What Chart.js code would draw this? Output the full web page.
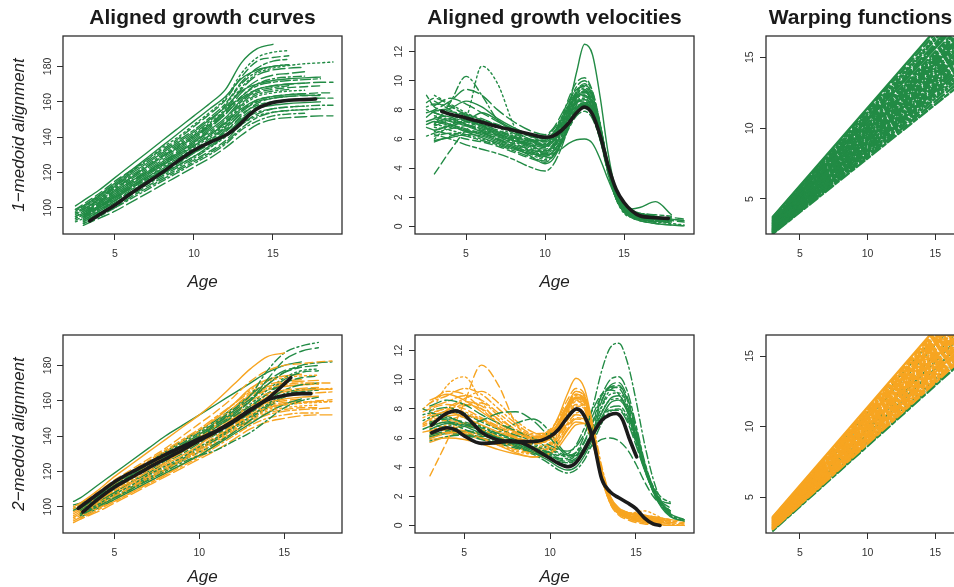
<!DOCTYPE html>
<html>
<head>
<meta charset="UTF-8">
<title>Aligned growth curves</title>
<script src="https://cdn.jsdelivr.net/npm/chart.js@4.4.0/dist/chart.umd.min.js"></script>
<style>
  html, body { margin: 0; padding: 0; background: #fff; }
  body { width: 954px; height: 587px; position: relative; overflow: hidden; }
  .panel { position: absolute; }
  .panel canvas { display: block; }
</style>
</head>
<body>
<div class="panel" style="left:0px;top:0px"><canvas id="p1" width="405" height="293"></canvas></div>
<div class="panel" style="left:352px;top:0px"><canvas id="p2" width="405" height="293"></canvas></div>
<div class="panel" style="left:704px;top:0px"><canvas id="p3" width="313" height="293"></canvas></div>
<div class="panel" style="left:0px;top:299px"><canvas id="p4" width="405" height="293"></canvas></div>
<div class="panel" style="left:352px;top:299px"><canvas id="p5" width="405" height="293"></canvas></div>
<div class="panel" style="left:704px;top:299px"><canvas id="p6" width="313" height="293"></canvas></div>
<script>
const _ = null;

// tick values
const ageTicks = [5, 10, 15];
const heightTicks = [100, 120, 140, 160, 180];
const velTicks = [0, 2, 4, 6, 8, 10, 12];
const warpTicks = [5, 10, 15];

// ---------- top left: aligned growth curves, 1 medoid ----------
const growthAges1 = [2.5, 3, 4, 5, 6, 7, 8, 9, 10, 11, 12, 13, 14, 15, 16, 17, 18, 18.8];
const growth1 = [
  [101, 104, 110, 117, 124, 131, 138, 145, 152, 159, 167, 182, 190, 192.5, _, _, _, _],
  [99, 102, 108, 115, 121, 127, 133, 139, 146, 153, 161, 174, 183, 185, 186, _, _, _],
  [_, 98, 104, 111, 117, 123, 129, 135, 141, 148, 156, 168, 176, 179, 180.5, 181.5, 182, 182.5],
  [97, 100, 106, 112, 118, 124, 130, 136, 142, 149, 158, 170, 177, 180, 181, _, _, _],
  [_, 97, 103, 109, 115, 121, 127, 133, 139, 146, 154, 165, 172, 175, 176, 177, _, _],
  [96, 99, 104, 110, 116, 122, 128, 134, 140, 147, 155, 163, 169, 171, 172, 172.5, 173, _],
  [_, 96, 101, 107, 113, 119, 125, 131, 137, 144, 151, 161, 167, 169, 170, 170.5, _, _],
  [95, 97, 102, 108, 114, 120, 125, 130, 136, 142, 149, 159, 165, 167, 168, 168.5, 169, _],
  [_, 95, 100, 106, 112, 117, 123, 128, 134, 140, 147, 157, 163, 165, 166, 166.5, _, _],
  [94, 96, 101, 107, 113, 119, 124, 130, 135, 141, 148, 158, 164, 166, 167, _, _, _],
  [_, 94, 99, 104, 110, 115, 121, 126, 131, 137, 144, 154, 160, 162, 163, 163.5, 164, _],
  [93, 95, 100, 105, 111, 116, 121, 127, 132, 138, 145, 153, 158, 160, 161, 161.5, 162, 162],
  [_, 93, 98, 103, 108, 114, 119, 124, 129, 135, 141, 150, 156, 158, 159, 159.5, 160, _],
  [_, 92, 97, 102, 107, 112, 117, 122, 127, 132, 138, 147, 153, 156, 157, 157.5, _, _],
  [92, 94, 99, 104, 109, 114, 119, 124, 129, 134, 140, 147, 152, 154, 155, 155.5, 156, _],
  [_, 91, 96, 100, 105, 110, 115, 120, 125, 130, 136, 144, 149, 152, 153, 153.5, _, _],
  [_, 90, 94, 98, 103, 108, 113, 118, 123, 128, 134, 141, 147, 150, 151, 151.5, 152, 152],
  [98, 101, 107, 113, 120, 126, 132, 138, 144, 151, 159, 171, 179, 183, 184, _, _, _],
  [_, 99, 105, 112, 119, 125, 131, 137, 143, 150, 157, 166, 170, 172, 173, 173.5, 174, _],
  [_, 94, 100, 106, 111, 117, 122, 128, 133, 139, 146, 155, 161, 163, 164, 164.5, 165, 165],
  [_, 100, 106, 113, 120, 127, 134, 140, 147, 154, 162, 176, 185, 188, 189, _, _, _],
  [97, 99, 105, 111, 117, 123, 129, 134, 140, 146, 153, 163, 170, 173, 174, 174.5, _, _],
  [_, 96, 102, 108, 114, 120, 126, 132, 138, 145, 153, 162, 167, 169, 170, 170.5, 171, 171],
  [95, 98, 103, 109, 115, 120, 126, 131, 137, 143, 150, 160, 166, 168, 169, _, _, _],
  [_, 95, 101, 106, 112, 118, 124, 129, 135, 141, 148, 156, 161, 163, 164, 164.5, _, _],
  [_, 93, 98, 104, 109, 115, 120, 125, 131, 137, 143, 151, 157, 160, 161, 161.5, 162, _],
  [94, 96, 101, 106, 112, 117, 122, 127, 132, 138, 146, 155, 160, 162, 163, _, _, _],
  [_, 92, 97, 102, 108, 113, 118, 123, 128, 134, 141, 149, 154, 156, 157, 157.5, 158, 158],
  [_, 97, 103, 110, 117, 123, 129, 135, 141, 147, 155, 167, 175, 178, 179, 179.5, _, _],
  [_, 91, 95, 100, 106, 111, 116, 121, 126, 131, 137, 145, 151, 154, 155, 155.5, 156, _],
  [99, 101, 107, 114, 121, 128, 135, 142, 149, 156, 163, 173, 178, 180, 181, _, _, _],
  [_, 95, 100, 105, 111, 116, 121, 126, 131, 136, 143, 152, 159, 162, 163, 163.5, 163.5, _]
];
const meanGrowthAges1 = [3.4, 4, 5, 6, 7, 8, 9, 10, 11, 12, 12.5, 13, 13.5, 14, 15, 16, 17, 17.7];
const meanGrowth1 = [92.5, 96, 101.5, 108, 114, 120, 126.5, 132.5, 137, 141, 144, 148, 152.5, 156, 159.5, 160.8, 161.2, 161.5];

// ---------- top middle: aligned growth velocities, 1 medoid ----------
const velAges1 = [2.5, 3, 4, 5, 6, 7, 8, 9, 10, 10.5, 11, 11.5, 12, 12.5, 13, 13.5, 14, 14.5, 15, 15.5, 16, 17, 18, 18.8];
const vel1 = [
  [_, 7.5, 7.2, 6.9, 6.5, 6.2, 5.9, 5.6, 5.5, 5.8, 6.6, 8.2, 10.6, 12.5, 11.8, 8.8, 5.0, 2.4, 1.1, 0.6, 0.4, 0.2, 0.1, 0.05],
  [8.5, 8.8, 8.3, 7.6, 7.0, 6.6, 6.2, 5.8, 5.6, 6.2, 7.3, 8.8, 9.9, 10.2, 9.3, 7.0, 4.0, 2.0, 1.0, 0.7, 0.6, 0.5, _, _],
  [_, 6.0, 7.0, 7.5, 11.0, 9.8, 7.0, 5.2, 5.0, 5.6, 6.5, 7.8, 8.8, 9.0, 8.2, 6.2, 3.6, 1.9, 1.1, 0.8, 0.6, 0.4, _, _],
  [_, 7.0, 8.5, 10.3, 9.0, 7.3, 6.6, 6.2, 6.0, 6.4, 7.3, 8.4, 9.2, 9.4, 8.7, 6.8, 4.2, 2.2, 1.3, 0.9, 0.7, 0.5, 0.4, _],
  [7.8, 8.0, 8.6, 9.4, 9.0, 8.0, 7.2, 6.6, 6.3, 6.7, 7.6, 8.6, 9.4, 9.6, 8.8, 6.9, 4.3, 2.3, 1.3, 0.9, 0.8, 0.6, _, _],
  [_, 6.3, 6.0, 5.6, 5.3, 5.0, 4.6, 4.1, 3.8, 4.2, 5.3, 6.8, 8.0, 8.3, 7.7, 6.0, 3.8, 2.2, 1.4, 1.0, 0.8, 0.6, 0.4, _],
  [_, 7.2, 6.9, 6.5, 6.1, 5.7, 5.3, 5.0, 4.9, 5.0, 5.3, 5.7, 5.95, 6.0, 5.7, 4.6, 3.2, 2.0, 1.4, 1.1, 0.9, 0.7, 0.5, 0.4],
  [7.2, 7.4, 7.6, 7.3, 6.9, 6.4, 6.0, 5.6, 5.3, 5.6, 6.4, 7.6, 8.6, 8.9, 8.4, 6.6, 3.9, 1.9, 1.0, 0.6, 0.4, 0.2, 0.1, 0.05],
  [_, 6.8, 6.6, 6.3, 6.0, 5.7, 5.4, 5.0, 4.6, 4.9, 5.8, 7.2, 8.4, 8.7, 8.1, 6.3, 3.8, 2.0, 1.1, 0.8, 0.6, 0.4, 0.3, _],
  [8.2, 8.4, 8.2, 7.7, 7.3, 6.9, 6.6, 6.3, 6.2, 6.6, 7.4, 8.3, 8.9, 9.0, 8.3, 6.4, 3.9, 2.0, 1.2, 0.9, 0.8, 0.7, _, _],
  [_, 5.8, 6.2, 6.5, 6.4, 6.0, 5.6, 5.2, 4.9, 5.1, 6.0, 7.4, 8.8, 9.3, 8.6, 6.5, 3.8, 1.9, 1.0, 0.6, 0.5, 0.3, _, _],
  [_, 8.0, 7.7, 7.2, 6.8, 6.4, 6.0, 5.7, 5.6, 6.0, 7.0, 8.4, 9.6, 10.0, 9.2, 7.0, 4.1, 2.0, 1.0, 0.7, 0.5, 0.4, 0.3, _],
  [_, 7.4, 7.0, 6.6, 6.3, 5.9, 5.5, 5.1, 4.8, 5.1, 5.8, 6.8, 7.8, 8.1, 7.6, 6.0, 3.9, 2.3, 1.5, 1.2, 1.3, 1.7, 0.8, _],
  [6.8, 6.6, 6.3, 6.0, 5.8, 5.5, 5.1, 4.7, 4.4, 4.8, 5.7, 7.0, 8.0, 8.3, 7.8, 6.2, 4.0, 2.3, 1.4, 1.0, 0.8, 0.6, 0.6, 0.5],
  [_, 9.0, 8.4, 7.8, 7.3, 6.8, 6.3, 5.9, 5.7, 6.0, 6.8, 8.0, 9.2, 9.7, 9.0, 6.9, 4.1, 2.1, 1.1, 0.7, 0.5, 0.3, _, _],
  [_, 6.5, 7.0, 7.2, 7.0, 6.6, 6.2, 5.9, 5.9, 6.3, 7.0, 7.9, 8.5, 8.6, 8.0, 6.3, 3.9, 2.1, 1.2, 0.8, 0.6, 0.4, 0.4, _],
  [_, 7.8, 7.4, 7.0, 6.6, 6.3, 6.1, 5.9, 5.8, 6.2, 6.9, 7.7, 8.2, 8.3, 7.7, 5.9, 3.6, 1.9, 1.1, 0.8, 0.7, 0.6, 0.5, _],
  [9.0, 8.2, 7.9, 7.6, 7.0, 6.2, 5.7, 5.3, 5.1, 5.5, 6.3, 7.5, 8.7, 9.2, 8.6, 6.7, 4.0, 2.0, 1.0, 0.7, 0.5, 0.35, 0.25, _],
  [_, 5.9, 6.1, 6.3, 6.2, 5.8, 5.4, 4.9, 4.3, 4.6, 5.6, 7.0, 8.1, 8.4, 7.9, 6.2, 3.9, 2.1, 1.1, 0.8, 0.6, 0.5, _, _],
  [_, 3.6, 5.2, 6.6, 7.2, 7.0, 6.5, 6.0, 5.9, 6.3, 7.1, 8.2, 9.1, 9.3, 8.5, 6.5, 3.9, 2.0, 1.1, 0.8, 0.6, 0.5, 0.5, _],
  [_, 7.6, 7.3, 7.0, 6.7, 6.3, 5.9, 5.5, 5.2, 5.5, 6.3, 7.6, 9.0, 9.5, 8.9, 6.8, 4.0, 2.0, 1.1, 0.8, 0.6, 0.5, 0.4, _],
  [8.0, 7.8, 7.5, 7.2, 6.9, 6.5, 6.1, 5.7, 5.4, 5.8, 6.7, 8.0, 9.3, 9.8, 9.0, 6.9, 4.0, 2.0, 1.0, 0.7, 0.5, 0.3, _, _],
  [_, 6.9, 7.3, 7.6, 7.4, 6.9, 6.4, 5.9, 5.5, 5.8, 6.5, 7.5, 8.3, 8.5, 7.9, 6.1, 3.7, 1.9, 1.1, 0.9, 0.7, 0.5, 0.4, 0.3],
  [_, 6.2, 6.4, 6.2, 5.9, 5.6, 5.2, 4.8, 4.5, 4.8, 5.6, 6.7, 7.6, 7.9, 7.4, 5.9, 3.8, 2.2, 1.4, 1.1, 0.9, 0.7, _, _],
  [7.5, 7.9, 8.1, 8.6, 8.2, 7.4, 6.8, 6.3, 6.0, 6.4, 7.2, 8.2, 9.0, 9.2, 8.5, 6.5, 3.9, 2.0, 1.1, 0.8, 0.6, 0.5, 0.4, _],
  [_, 8.6, 8.0, 7.4, 6.9, 6.5, 6.1, 5.6, 5.2, 5.4, 6.1, 7.2, 8.2, 8.5, 8.0, 6.3, 3.9, 2.1, 1.2, 0.9, 0.8, 0.6, _, _],
  [_, 7.0, 6.8, 6.6, 6.4, 6.1, 5.8, 5.4, 5.0, 5.3, 6.2, 7.7, 9.2, 9.7, 9.0, 6.8, 3.9, 1.9, 0.9, 0.6, 0.4, 0.3, 0.2, 0.1],
  [6.2, 6.4, 6.7, 6.9, 6.7, 6.3, 5.9, 5.5, 5.1, 5.4, 6.2, 7.4, 8.5, 8.8, 8.2, 6.4, 3.9, 2.0, 1.1, 0.8, 0.6, 0.5, _, _],
  [_, 8.3, 8.8, 8.4, 7.8, 7.2, 6.7, 6.2, 5.8, 6.1, 6.9, 8.0, 8.9, 9.1, 8.4, 6.5, 3.9, 2.0, 1.1, 0.8, 0.7, 0.6, 0.5, _],
  [_, 7.1, 7.4, 7.0, 6.5, 6.0, 5.5, 5.1, 4.7, 4.9, 5.7, 7.0, 8.1, 8.4, 7.8, 6.1, 3.8, 2.1, 1.3, 1.0, 0.9, 0.8, 0.7, _],
  [_, 6.6, 6.9, 7.2, 7.8, 7.3, 6.6, 6.0, 5.6, 5.9, 6.6, 7.6, 8.5, 8.7, 8.1, 6.3, 3.8, 2.0, 1.2, 0.9, 0.7, 0.5, _, _],
  [7.0, 7.2, 7.0, 6.7, 6.4, 6.0, 5.7, 5.3, 5.0, 5.2, 5.9, 7.0, 8.1, 8.5, 8.0, 6.3, 3.9, 2.1, 1.2, 0.9, 0.7, 0.6, 0.5, 0.4]
];
const meanVelAges1 = [3.46, 4, 5, 6, 7, 8, 9, 10, 10.5, 11, 11.5, 12, 12.5, 13, 13.5, 14, 14.5, 15, 15.5, 16, 17, 17.8];
const meanVel1 = [7.9, 7.7, 7.45, 7.15, 6.85, 6.6, 6.35, 6.12, 6.2, 6.55, 7.1, 7.8, 8.2, 7.7, 6.2, 4.15, 2.55, 1.64, 1.07, 0.73, 0.6, 0.55];

// ---------- warping functions (line ends at the first and last age) ----------
const warpAges = [3, 18];
const warpStart1 = [3.75, 3.71, 3.64, 3.58, 3.52, 3.47, 3.43, 3.37, 3.33, 3.28, 3.25, 3.2, 3.16, 3.12, 3.09,
  3.04, 3.0, 2.97, 2.93, 2.9, 2.86, 2.83, 2.8, 2.76, 2.73, 2.7, 2.67, 2.63, 2.59, 2.55];
const warpEnd1 = [20.2, 19.9, 19.6, 19.4, 19.1, 18.9, 18.7, 18.4, 18.2, 18.0, 17.8, 17.6, 17.4, 17.2, 17.0,
  16.8, 16.6, 16.4, 16.2, 16.0, 15.8, 15.6, 15.45, 15.25, 15.05, 14.85, 14.65, 14.45, 14.2, 13.95];

// ---------- bottom left: growth curves, 2 medoids ----------
const growthAges2 = [2.6, 3, 4, 5, 6, 7, 8, 9, 10, 11, 12, 13, 14, 15, 16, 17, 17.8];
const growth2Green = [
  [_, 100, 106, 112, 118, 124, 130, 136, 142, 148, 155, 163, 177, 187, 191, 193, _],
  [_, 99, 105, 111, 117, 122, 128, 134, 140, 146, 152, 160, 172, 183, 188, 190, _],
  [98, 100, 106, 112, 118, 124, 129, 135, 141, 147, 153, 160, 169, 176, 180, 181.5, 182],
  [103, 105, 112, 119, 126, 133, 140, 146, 152, 158, 164, 170, 176, 180, 182, _, _],
  [_, 98, 104, 110, 116, 122, 128, 133, 139, 145, 151, 157, 164, 170, 173, 174, _],
  [_, 96, 101, 107, 112, 118, 123, 128, 134, 139, 145, 151, 158, 164, 167, _, _],
  [_, 95, 100, 105, 110, 115, 120, 125, 129, 132, 137, 142, 149, 156, 160, 162, _],
  [101, 102, 107, 113, 119, 125, 131, 137, 143, 149, 156, 163, 171, 177, 179, 180, _],
  [_, 97, 103, 108, 114, 119, 125, 130, 136, 141, 147, 153, 160, 166, 169, 170, _],
  [_, 94, 99, 104, 109, 114, 119, 124, 129, 135, 141, 147, 153, 158, 161, _, _],
  [_, 97, 102, 108, 114, 120, 126, 131, 137, 143, 149, 156, 164, 172, 176, 177, _],
  [99, 101, 106, 112, 117, 123, 128, 134, 139, 145, 151, 158, 166, 173, 177, 178, _],
  [_, 95, 101, 106, 111, 117, 122, 127, 133, 138, 144, 150, 157, 163, 166, 167, _],
  [_, 100, 105, 111, 117, 123, 129, 135, 141, 147, 154, 161, 169, 176, 179, _, _],
  [_, 96, 100, 105, 110, 116, 121, 126, 131, 136, 142, 149, 156, 162, 165, 166, _]
];
const growth2Orange = [
  [_, 102, 109, 117, 124, 131, 138, 145, 152, 160, 169, 178, 185, 187, _, _, _],
  [100, 102, 108, 115, 121, 127, 133, 140, 147, 154, 162, 171, 177, 180, 181, 182, 182.5],
  [99, 101, 107, 113, 119, 125, 131, 137, 143, 150, 158, 166, 171, 173, 174, 174.5, _],
  [_, 100, 106, 112, 118, 123, 129, 135, 141, 148, 156, 163, 167, 169, 170, 170, 170],
  [97, 99, 104, 110, 116, 121, 127, 133, 139, 146, 153, 160, 164, 166, 167, 167.5, _],
  [_, 98, 103, 109, 114, 120, 125, 131, 137, 144, 151, 157, 161, 163, 164, 164.5, 165],
  [95, 97, 102, 107, 113, 118, 124, 129, 135, 142, 149, 155, 159, 161, 162, 162.5, _],
  [_, 96, 101, 106, 111, 117, 122, 127, 133, 139, 146, 152, 156, 158, 159, 160, 160.5],
  [93, 95, 100, 105, 110, 115, 120, 126, 131, 137, 144, 150, 154, 156, 157, 157.5, _],
  [_, 94, 99, 103, 108, 113, 118, 123, 128, 134, 140, 146, 150, 152, 153, 153, _],
  [91, 93, 97, 102, 107, 112, 117, 122, 127, 132, 138, 144, 148, 150, 151.5, 152, 152],
  [_, 101, 107, 114, 120, 126, 132, 138, 144, 151, 158, 165, 169, 171, 172, _, _],
  [96, 98, 103, 108, 114, 119, 125, 131, 137, 143, 150, 157, 162, 165, 166, 166.5, 166.5],
  [_, 97, 102, 107, 112, 118, 123, 128, 134, 140, 147, 154, 158, 160, 161, _, _],
  [94, 96, 101, 106, 111, 116, 121, 126, 132, 138, 145, 151, 155, 157.5, 158.5, 159, 159.5],
  [_, 99, 105, 111, 117, 122, 128, 134, 140, 147, 154, 161, 166, 168, 169, 169.5, _],
  [_, 98, 104, 110, 116, 122, 127, 133, 139, 146, 154, 162, 166, 168, 169, 169.5, _],
  [94, 96, 100, 105, 110, 116, 121, 127, 132, 138, 145, 152, 156, 158, 159, 159.5, 159.5],
  [_, 100, 106, 113, 119, 125, 131, 137, 143, 150, 158, 167, 172, 174, 175, _, _],
  [92, 94, 99, 104, 109, 114, 119, 124, 130, 136, 143, 149, 153, 155, 156, 156, _],
  [_, 97, 103, 109, 115, 121, 127, 132, 138, 145, 152, 159, 163, 165, 166, 166.5, 167],
  [_, 95, 100, 105, 111, 116, 121, 127, 133, 139, 146, 153, 157, 159, 160, _, _],
  [98, 100, 105, 111, 117, 123, 129, 135, 141, 148, 156, 164, 168, 170, 171, 171.5, _],
  [_, 93, 98, 103, 108, 113, 118, 124, 129, 135, 142, 148, 152, 154, 155, 155.5, 156]
];
const meanGrowthAges2Orange = [2.87, 4, 5, 6, 7, 8, 9, 10, 11, 12, 13, 14, 15, 16, 16.56];
const meanGrowth2Orange = [99, 107, 114, 119.5, 124.5, 129.5, 134, 138.5, 143, 148.5, 155, 160.5, 163, 164, 164];
const meanGrowthAges2Green = [3.15, 4, 5, 6, 7, 8, 9, 10, 11, 12, 13, 14, 15, 15.38];
const meanGrowth2Green = [97, 104, 111, 116.5, 122, 127, 132, 137.5, 142.5, 148, 154.5, 161, 169.5, 173];

// ---------- bottom middle: growth velocities, 2 medoids ----------
const velAges2 = [2.6, 3, 4, 5, 6, 7, 8, 9, 10, 10.5, 11, 11.5, 12, 12.5, 13, 13.5, 14, 14.5, 15, 15.5, 16, 16.5, 17, 17.8];
const vel2Green = [
  [_, 7.0, 7.4, 7.0, 6.5, 6.0, 5.6, 5.2, 4.8, 4.6, 4.6, 5.0, 6.2, 8.2, 10.6, 12.2, 12.5, 11.2, 8.6, 5.6, 3.2, 1.6, 0.8, _],
  [_, 6.2, 6.5, 6.8, 7.2, 7.7, 7.8, 7.2, 6.0, 5.3, 4.8, 4.8, 5.4, 6.8, 8.5, 9.6, 9.8, 8.8, 6.7, 4.3, 2.6, 1.7, 1.5, _],
  [8.0, 7.8, 7.2, 6.6, 6.2, 5.9, 5.6, 5.3, 5.0, 4.8, 4.9, 5.5, 6.7, 8.0, 9.0, 9.3, 9.0, 7.8, 5.8, 3.8, 2.4, 1.5, 1.0, _],
  [_, 6.6, 7.0, 6.8, 6.3, 5.9, 5.5, 5.0, 4.4, 4.0, 3.8, 4.0, 4.8, 6.0, 7.4, 8.4, 8.6, 7.8, 6.0, 4.1, 2.6, 1.5, 0.8, 0.4],
  [_, 6.0, 6.3, 6.2, 5.9, 5.6, 5.3, 5.0, 4.6, 4.4, 4.3, 4.5, 5.0, 5.5, 5.9, 6.0, 5.8, 5.2, 4.2, 3.0, 2.0, 1.4, 1.0, _],
  [7.2, 7.4, 7.8, 7.4, 6.8, 6.3, 5.9, 5.5, 5.0, 4.6, 4.3, 4.4, 5.2, 6.6, 8.1, 9.0, 9.1, 8.2, 6.3, 4.2, 2.5, 1.4, 0.7, 0.3],
  [_, 5.8, 6.1, 6.2, 6.0, 5.7, 5.4, 4.9, 4.2, 3.8, 3.6, 3.8, 4.5, 5.7, 7.0, 7.8, 8.0, 7.3, 5.7, 3.9, 2.4, 1.4, 0.8, _],
  [_, 8.2, 8.6, 8.3, 7.6, 7.0, 6.5, 6.0, 5.5, 5.2, 5.1, 5.4, 6.3, 7.6, 8.9, 9.5, 9.4, 8.3, 6.2, 4.0, 2.3, 1.3, 0.7, _],
  [_, 6.9, 6.7, 6.4, 6.1, 6.4, 7.0, 7.3, 6.4, 5.5, 4.9, 4.8, 5.3, 6.3, 7.4, 8.1, 8.2, 7.5, 5.9, 4.1, 2.7, 1.9, 1.6, _],
  [6.6, 6.8, 7.1, 6.9, 6.5, 6.0, 5.6, 5.1, 4.6, 4.3, 4.1, 4.3, 5.0, 6.3, 7.7, 8.7, 8.9, 8.0, 6.1, 4.0, 2.3, 1.2, 0.6, 0.3],
  [_, 7.1, 7.3, 7.1, 6.7, 6.3, 5.9, 5.4, 4.9, 4.6, 4.5, 4.8, 5.7, 7.1, 8.6, 9.5, 9.6, 8.6, 6.5, 4.2, 2.5, 1.4, 0.8, _],
  [_, 6.4, 6.8, 7.0, 6.8, 6.4, 6.0, 5.6, 5.2, 4.9, 4.7, 4.8, 5.4, 6.5, 7.8, 8.6, 8.7, 7.9, 6.1, 4.1, 2.5, 1.5, 1.0, _],
  [7.6, 7.7, 7.5, 7.0, 6.6, 6.2, 5.8, 5.3, 4.7, 4.3, 4.1, 4.3, 5.1, 6.5, 8.2, 9.3, 9.5, 8.6, 6.5, 4.2, 2.4, 1.3, 0.7, 0.4],
  [_, 6.1, 6.4, 6.5, 6.3, 6.0, 5.7, 5.3, 4.8, 4.5, 4.4, 4.6, 5.3, 6.3, 7.3, 7.9, 7.9, 7.1, 5.5, 3.8, 2.4, 1.6, 1.2, _],
  [_, 7.9, 8.1, 7.7, 7.1, 6.6, 6.2, 5.8, 5.3, 5.0, 4.8, 5.0, 5.8, 7.2, 8.9, 10.0, 10.2, 9.2, 6.9, 4.4, 2.6, 1.5, 0.9, _]
];
const vel2Orange = [
  [_, 7.5, 7.8, 7.4, 6.9, 6.4, 6.0, 5.8, 6.4, 7.5, 9.0, 10.1, 9.4, 6.8, 3.6, 1.6, 0.8, 0.5, 0.3, 0.2, 0.1, 0.05, 0, 0],
  [_, 3.4, 5.8, 8.4, 11.0, 9.6, 7.0, 6.0, 6.6, 7.3, 8.2, 8.6, 8.0, 5.8, 3.2, 1.6, 1.0, 0.7, 0.5, 0.4, 0.3, _, _, _],
  [_, 7.6, 9.6, 10.2, 8.5, 6.9, 6.0, 5.6, 5.9, 6.6, 7.7, 8.5, 8.2, 6.2, 3.4, 1.6, 0.9, 0.6, 0.4, 0.3, 0.2, 0.1, _, _],
  [8.0, 8.4, 8.9, 9.4, 9.0, 8.0, 7.0, 6.3, 6.4, 7.0, 8.1, 8.9, 8.6, 6.6, 3.7, 1.8, 1.0, 0.7, 0.6, 0.5, 0.4, 0.3, 0.2, _],
  [_, 6.0, 6.3, 6.4, 6.0, 5.6, 5.2, 5.0, 5.4, 6.1, 7.0, 7.6, 7.3, 5.6, 3.2, 1.6, 0.9, 0.6, 0.5, 0.4, 0.3, 0.2, 0.1, _],
  [6.8, 7.0, 7.5, 7.6, 7.2, 6.6, 6.0, 5.6, 6.0, 6.9, 8.2, 9.2, 8.8, 6.5, 3.4, 1.5, 0.8, 0.6, 0.5, 0.5, 0.5, 0.4, 0.3, 0.2],
  [_, 5.9, 6.0, 5.9, 5.6, 5.2, 4.9, 4.7, 5.0, 5.6, 6.5, 7.1, 7.0, 5.5, 3.3, 1.8, 1.1, 0.8, 0.7, 0.6, 0.5, 0.4, _, _],
  [7.8, 8.0, 8.3, 8.0, 7.4, 6.8, 6.3, 6.0, 6.5, 7.4, 8.6, 9.4, 9.0, 6.7, 3.5, 1.5, 0.7, 0.4, 0.2, 0.1, 0.05, 0, 0, 0],
  [_, 6.5, 6.9, 7.0, 6.6, 6.1, 5.7, 5.4, 5.7, 6.4, 7.4, 8.0, 7.7, 5.9, 3.4, 1.7, 1.0, 0.8, 0.9, 1.0, 0.8, 0.5, 0.3, _],
  [_, 7.2, 7.6, 8.2, 8.4, 7.5, 6.5, 5.9, 6.0, 6.7, 7.8, 8.7, 8.5, 6.4, 3.5, 1.7, 0.9, 0.6, 0.4, 0.3, 0.2, 0.2, _, _],
  [6.4, 6.5, 6.6, 6.5, 6.2, 5.8, 5.4, 5.2, 5.5, 6.2, 7.2, 7.9, 7.6, 5.9, 3.5, 1.8, 1.1, 0.9, 0.8, 0.7, 0.6, 0.5, 0.4, 0.3],
  [_, 8.4, 9.2, 9.0, 8.0, 7.0, 6.4, 6.1, 6.2, 6.9, 8.0, 8.8, 8.5, 6.5, 3.7, 1.8, 1.0, 0.7, 0.5, 0.4, 0.3, _, _, _],
  [_, 6.2, 6.4, 6.3, 6.0, 5.5, 5.0, 4.7, 4.9, 5.4, 6.2, 6.9, 7.0, 5.9, 3.8, 2.0, 1.2, 0.9, 0.8, 0.7, 0.6, 0.5, 0.4, _],
  [7.0, 7.3, 7.9, 8.5, 8.2, 7.2, 6.4, 6.0, 6.3, 7.1, 8.3, 9.0, 8.6, 6.4, 3.4, 1.6, 0.9, 0.7, 0.6, 0.5, 0.4, 0.3, 0.2, 0.1],
  [_, 6.7, 6.5, 6.2, 5.9, 5.5, 5.1, 4.9, 5.2, 5.9, 6.9, 7.7, 7.8, 6.3, 3.9, 2.0, 1.0, 0.6, 0.4, 0.3, 0.2, 0.1, _, _],
  [_, 7.7, 8.1, 8.7, 9.2, 8.4, 7.2, 6.4, 6.2, 6.8, 7.9, 8.8, 8.7, 6.9, 4.1, 2.0, 1.0, 0.6, 0.4, 0.3, 0.2, _, _, _],
  [_, 7.3, 7.9, 8.3, 8.0, 7.3, 6.6, 6.1, 6.2, 6.9, 8.0, 8.7, 8.4, 6.4, 3.6, 1.8, 1.0, 0.7, 0.5, 0.4, 0.3, 0.2, _, _],
  [6.9, 7.1, 7.2, 7.0, 6.6, 6.1, 5.6, 5.3, 5.6, 6.3, 7.4, 8.2, 8.0, 6.1, 3.5, 1.7, 1.0, 0.7, 0.6, 0.5, 0.4, 0.3, 0.2, 0.1],
  [_, 8.6, 9.0, 8.6, 7.8, 7.0, 6.4, 6.0, 6.3, 7.1, 8.3, 9.2, 8.9, 6.7, 3.6, 1.6, 0.8, 0.5, 0.3, 0.2, 0.1, 0.05, _, _],
  [_, 6.3, 6.6, 6.8, 6.5, 6.0, 5.5, 5.1, 5.3, 5.9, 6.8, 7.4, 7.3, 5.8, 3.5, 1.9, 1.2, 0.9, 0.7, 0.6, 0.5, 0.4, 0.3, _],
  [7.4, 7.6, 8.0, 7.8, 7.3, 6.7, 6.2, 5.9, 6.1, 6.8, 7.9, 8.6, 8.3, 6.3, 3.5, 1.7, 0.9, 0.6, 0.5, 0.4, 0.3, 0.2, 0.1, 0],
  [_, 6.8, 7.2, 7.5, 7.3, 6.7, 6.1, 5.7, 5.9, 6.6, 7.6, 8.3, 8.1, 6.2, 3.6, 1.8, 1.0, 0.7, 0.6, 0.6, 0.5, 0.4, _, _],
  [_, 5.7, 6.1, 6.4, 6.3, 5.9, 5.4, 5.0, 5.1, 5.7, 6.6, 7.3, 7.2, 5.7, 3.4, 1.7, 1.0, 0.8, 0.7, 0.6, 0.5, 0.4, 0.3, _],
  [_, 8.1, 8.5, 8.9, 8.6, 7.7, 6.8, 6.2, 6.3, 7.0, 8.2, 9.0, 8.7, 6.6, 3.7, 1.8, 0.9, 0.6, 0.4, 0.3, 0.2, 0.1, _, _]
];
const meanVelAges2Orange = [3.1, 3.5, 4, 4.46, 5, 5.5, 6, 7, 8, 9, 10, 10.5, 11, 11.55, 12, 12.5, 13, 13.5, 14, 14.5, 15, 15.5, 16, 16.4];
const meanVel2Orange = [6.88, 7.3, 7.7, 7.86, 7.6, 7.0, 6.4, 5.85, 5.75, 5.75, 6.1, 6.6, 7.4, 8.0, 7.5, 5.9, 3.2, 2.3, 1.9, 1.55, 1.15, 0.5, 0.1, 0];
const meanVelAges2Green = [3.1, 3.5, 4, 4.5, 5, 6, 7, 7.66, 8.5, 9, 10, 10.5, 11.06, 11.5, 12, 12.5, 13, 13.5, 13.84, 14.2, 14.6, 15.04];
const meanVel2Green = [6.35, 6.55, 6.7, 6.55, 6.15, 5.63, 5.7, 5.8, 5.6, 5.3, 4.6, 4.25, 4.03, 4.3, 5.2, 6.3, 7.2, 7.6, 7.68, 7.3, 6.0, 4.7];

// ---------- bottom right: warping functions, 2 medoids ----------
const warpStart2Orange = [3.6, 3.56, 3.52, 3.48, 3.44, 3.4, 3.36, 3.32, 3.28, 3.24, 3.2, 3.16, 3.12, 3.08, 3.04,
  3.0, 2.96, 2.92, 2.88, 2.85, 2.82, 2.79, 2.76, 2.72];
const warpEnd2Orange = [20.25, 20.0, 19.8, 19.6, 19.4, 19.2, 19.0, 18.8, 18.6, 18.4, 18.2, 18.0, 17.8, 17.6, 17.4,
  17.2, 17.0, 16.8, 16.6, 16.4, 16.2, 16.0, 15.85, 15.7];
const warpStart2Green = [3.5, 3.35, 3.2, 3.05, 2.95, 2.85, 2.78, 2.7, 2.65, 2.6];
const warpEnd2Green = [19.6, 18.9, 18.1, 17.5, 16.9, 16.4, 16.0, 15.8, 15.6, 15.47];

// ---------- styling ----------
const GREEN = '#228b45';
const ORANGE = '#f7a521';
const BLACK = '#1b1b1b';
const AXIS = '#2e2e2e';
const TICK_TEXT = '#333';
const LTY = [[], [8, 4], [2, 3], [2, 3, 8, 3], [12, 4], [4, 3, 10, 3]];

Chart.defaults.font.family = '"Liberation Sans", Arial, Helvetica, sans-serif';

function series(ages, vals, color, k, width) {
  const pts = [];
  for (let i = 0; i < ages.length; i++) {
    if (vals[i] !== null) pts.push({ x: ages[i], y: vals[i] });
  }
  return {
    data: pts,
    borderColor: color,
    borderWidth: width,
    borderDash: LTY[k % LTY.length],
    borderCapStyle: 'round',
    borderJoinStyle: 'round',
    pointRadius: 0,
    fill: false,
    cubicInterpolationMode: 'monotone',
    clip: 0
  };
}

function interleave(a, b) {
  const out = [];
  const n = Math.max(a.length, b.length);
  for (let i = 0; i < n; i++) {
    if (i < a.length) out.push(a[i]);
    if (i < b.length) out.push(b[i]);
  }
  return out;
}

// frame round the plot region
const frame = {
  id: 'frame',
  afterDatasetsDraw(chart) {
    const { ctx, chartArea: a } = chart;
    ctx.save();
    ctx.strokeStyle = AXIS;
    ctx.lineWidth = 1.3;
    ctx.strokeRect(a.left, a.top, a.right - a.left, a.bottom - a.top);
    ctx.restore();
  }
};

function panel(id, cfg) {
  const yW = cfg.yWidth;
  const tickGrid = { drawOnChartArea: false, drawTicks: true, tickLength: 6, tickColor: AXIS, tickWidth: 1 };
  new Chart(document.getElementById(id), {
    type: 'line',
    data: { datasets: cfg.datasets },
    plugins: [frame],
    options: {
      responsive: false,
      animation: false,
      devicePixelRatio: 1,
      events: [],
      layout: { padding: { top: cfg.title ? 0 : 36, left: 0, right: 0, bottom: 0 } },
      plugins: {
        legend: { display: false },
        tooltip: { enabled: false },
        title: cfg.title ? {
          display: true, text: cfg.title, color: '#1a1a1a',
          font: { size: 21, weight: 'bold' }, padding: { top: 6, bottom: 4.8 }
        } : { display: false }
      },
      scales: {
        x: {
          type: 'linear', min: cfg.xMin, max: cfg.xMax,
          afterBuildTicks: s => { s.ticks = cfg.xTicks.map(v => ({ value: v })); },
          afterFit: s => { s.height = 59; },
          grid: tickGrid,
          border: { display: false },
          ticks: { font: { size: 10.5 }, color: TICK_TEXT, padding: 7.5, maxRotation: 0, autoSkip: false, callback: v => String(v) },
          title: {
            display: !!cfg.xTitle, text: cfg.xTitle || '', color: '#222',
            font: { size: 17, style: 'italic' }, padding: { top: 0, bottom: cfg.xTitlePad || 0 }
          }
        },
        y: {
          type: 'linear', position: 'left', min: cfg.yMin, max: cfg.yMax,
          afterBuildTicks: s => { s.ticks = cfg.yTicks.map(v => ({ value: v })); },
          afterFit: s => { s.width = yW; },
          grid: tickGrid,
          border: { display: false },
          ticks: {
            font: { size: 10.5 }, color: TICK_TEXT, padding: cfg.yTickPad,
            minRotation: 90, maxRotation: 90, crossAlign: 'center', autoSkip: false, callback: v => String(v)
          },
          title: {
            display: !!cfg.yTitle, text: cfg.yTitle || '', color: '#222',
            font: { size: 17, style: 'italic' }, padding: { top: 9, bottom: 0 }
          }
        },
        yR: {
          type: 'linear', position: 'right',
          afterFit: s => { s.width = yW; },
          grid: { display: false }, ticks: { display: false }, border: { display: false }
        }
      }
    }
  });
}

// ---------- build panels ----------
panel('p1', {
  title: 'Aligned growth curves', yTitle: '1\u2212medoid alignment', xTitle: 'Age', xTitlePad: 0.8,
  yWidth: 63, yTickPad: 0,
  xMin: 1.71, xMax: 19.37, xTicks: ageTicks, yMin: 85.1, yMax: 197.2, yTicks: heightTicks,
  datasets: [series(meanGrowthAges1, meanGrowth1, BLACK, 0, 3.6)]
    .concat(growth1.map((v, k) => series(growthAges1, v, GREEN, k, 1.4)))
});

panel('p2', {
  title: 'Aligned growth velocities', xTitle: 'Age', xTitlePad: 0.8,
  yWidth: 63, yTickPad: 4,
  xMin: 1.77, xMax: 19.43, xTicks: ageTicks, yMin: -0.52, yMax: 13.07, yTicks: velTicks,
  datasets: [series(meanVelAges1, meanVel1, BLACK, 0, 3.6)]
    .concat(vel1.map((v, k) => series(velAges1, v, GREEN, k, 1.4)))
});

panel('p3', {
  title: 'Warping functions',
  yWidth: 62, yTickPad: 4.5,
  xMin: 2.49, xMax: 16.46, xTicks: ageTicks, yMin: 2.53, yMax: 16.5, yTicks: warpTicks,
  datasets: warpStart1.map((s, k) => series(warpAges, [s, warpEnd1[k]], GREEN, k, 2.4))
});

panel('p4', {
  yTitle: '2\u2212medoid alignment', xTitle: 'Age', xTitlePad: 4.3,
  yWidth: 63, yTickPad: 0,
  xMin: 1.98, xMax: 18.39, xTicks: ageTicks, yMin: 85.1, yMax: 197.2, yTicks: heightTicks,
  datasets: [
    series(meanGrowthAges2Orange, meanGrowth2Orange, BLACK, 0, 3.6),
    series(meanGrowthAges2Green, meanGrowth2Green, BLACK, 0, 3.6)
  ].concat(interleave(
    growth2Orange.map((v, k) => series(growthAges2, v, ORANGE, k, 1.4)),
    growth2Green.map((v, k) => series(growthAges2, v, GREEN, k + 3, 1.4))
  ))
});

panel('p5', {
  xTitle: 'Age', xTitlePad: 4.3,
  yWidth: 63, yTickPad: 4,
  xMin: 2.13, xMax: 18.38, xTicks: ageTicks, yMin: -0.52, yMax: 13.07, yTicks: velTicks,
  datasets: [
    series(meanVelAges2Orange, meanVel2Orange, BLACK, 0, 3.6),
    series(meanVelAges2Green, meanVel2Green, BLACK, 0, 3.6)
  ].concat(interleave(
    vel2Orange.map((v, k) => series(velAges2, v, ORANGE, k, 1.4)),
    vel2Green.map((v, k) => series(velAges2, v, GREEN, k + 3, 1.4))
  ))
});

// orange listed first so it is painted over the green lines
panel('p6', {
  yWidth: 62, yTickPad: 4.5,
  xMin: 2.49, xMax: 16.46, xTicks: ageTicks, yMin: 2.45, yMax: 16.49, yTicks: warpTicks,
  datasets: warpStart2Orange.map((s, k) => series(warpAges, [s, warpEnd2Orange[k]], ORANGE, k, 2.4))
    .concat(warpStart2Green.map((s, k) => series(warpAges, [s, warpEnd2Green[k]], GREEN, k + 2, 2.0)))
});
</script>
</body>
</html>
